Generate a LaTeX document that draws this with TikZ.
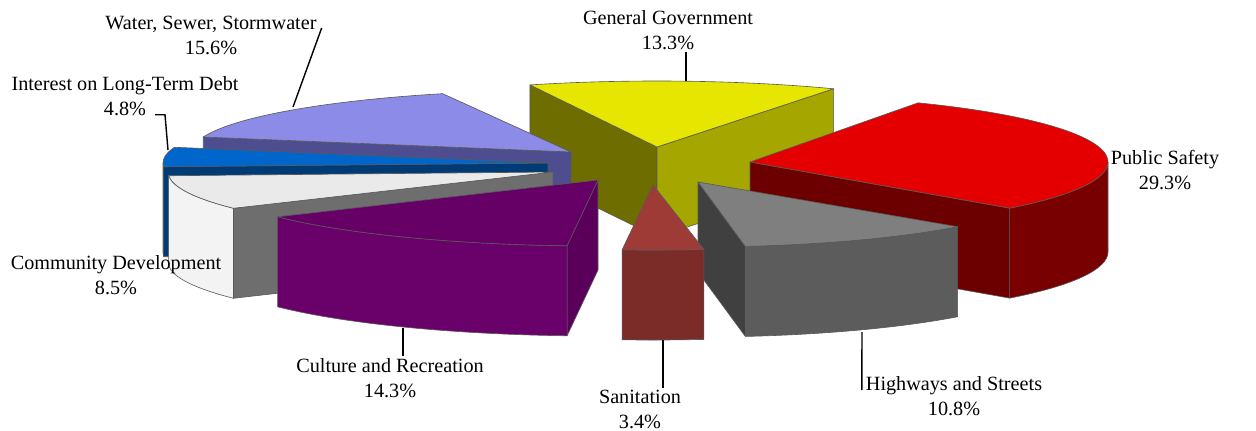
\documentclass[tikz,border=0pt]{standalone}
\usepackage{fontspec}
\setmainfont{Liberation Serif}
\usepackage{tikz}
\usetikzlibrary{calc}
\definecolor{ggTop}{RGB}{230,230,0}
\definecolor{ggLeft}{RGB}{110,110,0}
\definecolor{ggRight}{RGB}{166,166,0}
\definecolor{wsTop}{RGB}{140,140,232}
\definecolor{wsSide}{RGB}{77,77,143}
\definecolor{psTop}{RGB}{228,0,0}
\definecolor{psSide}{RGB}{108,0,0}
\definecolor{psOuter}{RGB}{120,0,0}
\definecolor{ldTop}{RGB}{0,102,204}
\definecolor{ldSide}{RGB}{0,59,117}
\definecolor{cdTop}{RGB}{234,234,234}
\definecolor{cdOuter}{RGB}{243,243,243}
\definecolor{cdSide}{RGB}{110,110,110}
\definecolor{crTop}{RGB}{102,0,102}
\definecolor{crOuter}{RGB}{106,0,106}
\definecolor{crSide}{RGB}{90,0,90}
\definecolor{saTop}{RGB}{158,59,54}
\definecolor{saOuter}{RGB}{124,44,40}
\definecolor{hsTop}{RGB}{127,127,127}
\definecolor{hsOuter}{RGB}{92,92,92}
\definecolor{hsSide}{RGB}{64,64,64}
\tikzset{
  face/.style={draw=black!65,line width=0.35pt,line join=round},
  lbl/.style={font=\fontsize{11.5}{14.2}\selectfont,align=center,inner sep=1pt},
  leader/.style={draw=black,line width=0.8pt},
}

\begin{document}
\begin{tikzpicture}[x=0.02cm,y=-0.02cm]
  \useasboundingbox (0,0) rectangle (1256,430);
  % slice centres (exploded), depth 90
  \coordinate (gg) at (657,147);
  \coordinate (ws) at (571,152);
  \coordinate (ps) at (750,162);
  \coordinate (ld) at (548,163);
  \coordinate (cd) at (553,172);
  \coordinate (cr) at (598,180);
  \coordinate (hs) at (698,182);
  \coordinate (sa) at (653,185);
  % General Government (back)
  \filldraw[face,fill=ggLeft] (gg) -- ($(gg)+(-109.8:375 and 66)$) -- ++(0,90) -- ($(gg)+(0,90)$) -- cycle;
  \filldraw[face,fill=ggRight] (gg) -- ($(gg)+(-61.9:375 and 66)$) -- ++(0,90) -- ($(gg)+(0,90)$) -- cycle;
  \filldraw[face,fill=ggTop] (gg) -- ($(gg)+(-109.8:375 and 66)$) arc[start angle=-109.8,end angle=-61.9,x radius=375,y radius=66] -- cycle;
  % Water, Sewer, Stormwater
  \filldraw[face,fill=wsSide] (ws) -- ($(ws)+(-166:379 and 62)$) -- ++(0,90) -- ($(ws)+(0,90)$) -- cycle;
  \filldraw[face,fill=wsTop] (ws) -- ($(ws)+(-166:379 and 62)$) arc[start angle=-166,end angle=-109.8,x radius=379,y radius=62] -- cycle;
  % Public Safety
  \filldraw[face,fill=psOuter] ($(ps)+(0:358 and 67)$) arc[start angle=0,end angle=43.5,x radius=358,y radius=67] -- ++(0,90) arc[start angle=43.5,end angle=0,x radius=358,y radius=67] -- cycle;
  \filldraw[face,fill=psSide] (ps) -- ($(ps)+(43.5:358 and 67)$) -- ++(0,90) -- ($(ps)+(0,90)$) -- cycle;
  \filldraw[face,fill=psTop] (ps) -- ($(ps)+(-62:358 and 67)$) arc[start angle=-62,end angle=43.5,x radius=358,y radius=67] -- cycle;
  % Interest on Long-Term Debt
  \filldraw[face,fill=ldSide] ($(ld)+(176.7:385 and 65)$) arc[start angle=176.7,end angle=180,x radius=385,y radius=65] -- ++(0,90) arc[start angle=180,end angle=176.7,x radius=385,y radius=65] -- cycle;
  \filldraw[face,fill=ldSide] (ld) -- ($(ld)+(176.7:385 and 65)$) -- ++(0,90) -- ($(ld)+(0,90)$) -- cycle;
  \filldraw[face,fill=ldTop] (ld) -- ($(ld)+(176.7:385 and 65)$) arc[start angle=176.7,end angle=194,x radius=385,y radius=65] -- cycle;
  % Community Development
  \filldraw[face,fill=cdSide] (cd) -- ($(cd)+(146.1:385 and 65)$) -- ++(0,90) -- ($(cd)+(0,90)$) -- cycle;
  \filldraw[face,fill=cdOuter] ($(cd)+(146.1:385 and 65)$) arc[start angle=146.1,end angle=176.7,x radius=385,y radius=65] -- ++(0,90) arc[start angle=176.7,end angle=146.1,x radius=385,y radius=65] -- cycle;
  \filldraw[face,fill=cdTop] (cd) -- ($(cd)+(146.1:385 and 65)$) arc[start angle=146.1,end angle=176.7,x radius=385,y radius=65] -- cycle;
  % Culture and Recreation
  \filldraw[face,fill=crSide] (cr) -- ($(cr)+(94.6:386 and 66)$) -- ++(0,90) -- ($(cr)+(0,90)$) -- cycle;
  \filldraw[face,fill=crOuter] ($(cr)+(94.6:386 and 66)$) arc[start angle=94.6,end angle=146.1,x radius=386,y radius=66] -- ++(0,90) arc[start angle=146.1,end angle=94.6,x radius=386,y radius=66] -- cycle;
  \filldraw[face,fill=crTop] (cr) -- ($(cr)+(94.6:386 and 66)$) arc[start angle=94.6,end angle=146.1,x radius=386,y radius=66] -- cycle;
  % Highways and Streets
  \filldraw[face,fill=hsSide] (hs) -- ($(hs)+(82.4:358 and 65)$) -- ++(0,90) -- ($(hs)+(0,90)$) -- cycle;
  \filldraw[face,fill=hsOuter] ($(hs)+(43.5:358 and 65)$) arc[start angle=43.5,end angle=82.4,x radius=358,y radius=65] -- ++(0,90) arc[start angle=82.4,end angle=43.5,x radius=358,y radius=65] -- cycle;
  \filldraw[face,fill=hsTop] (hs) -- ($(hs)+(43.5:358 and 65)$) arc[start angle=43.5,end angle=82.4,x radius=358,y radius=65] -- cycle;
  % Sanitation (front)
  \filldraw[face,fill=saOuter] ($(sa)+(82.4:385 and 65)$) arc[start angle=82.4,end angle=94.6,x radius=385,y radius=65] -- ++(0,90) arc[start angle=94.6,end angle=82.4,x radius=385,y radius=65] -- cycle;
  \filldraw[face,fill=saTop] (sa) -- ($(sa)+(82.4:385 and 65)$) arc[start angle=82.4,end angle=94.6,x radius=385,y radius=65] -- cycle;
  % labels
  \node[lbl] (ggLbl) at (668,30) {General Government\\13.3\%};
  \node[lbl] (wsLbl) at (211,35) {Water, Sewer, Stormwater\\15.6\%};
  \node[lbl] (ldLbl) at (125,96) {Interest on Long-Term Debt\\4.8\%};
  \node[lbl] (cdLbl) at (116,275) {Community Development\\8.5\%};
  \node[lbl] (psLbl) at (1165,170) {Public Safety\\29.3\%};
  \node[lbl] (hsLbl) at (954,396) {Highways and Streets\\10.8\%};
  \node[lbl] (crLbl) at (390,378) {Culture and Recreation\\14.3\%};
  \node[lbl] (saLbl) at (640,409) {Sanitation\\3.4\%};
  % leader lines
  \coordinate (ggTip) at (686,81);
  \coordinate (wsTip) at (293,107);
  \coordinate (ldTip) at (168,150);
  \coordinate (hsTip) at (862,332);
  \coordinate (crTip) at (403,328);
  \coordinate (saTip) at (663,340);
  \draw[leader] (ggLbl.south -| ggTip) -- (ggTip);
  \draw[leader] ([shift={(3,-7)}]wsLbl.east) -- (wsTip);
  \draw[leader] ([shift={(30,-3)}]ldLbl.south) -- ++(10,0) -- (ldTip);
  \draw[leader] ([shift={(-2,-6)}]hsLbl.west) -- (hsTip);
  \draw[leader] (crLbl.north -| crTip) -- (crTip);
  \draw[leader] (saLbl.north -| saTip) -- (saTip);
\end{tikzpicture}
\end{document}
